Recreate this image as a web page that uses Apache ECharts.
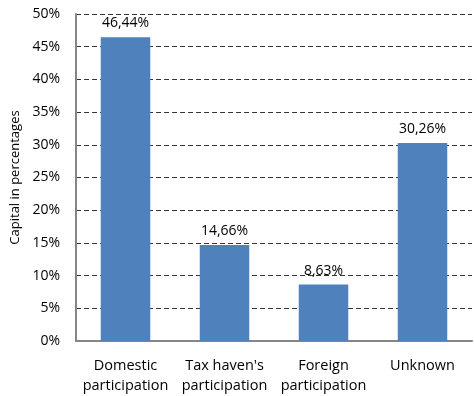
<!DOCTYPE html>
<html>
<head>
<meta charset="utf-8">
<script src="https://cdn.jsdelivr.net/npm/echarts@6/dist/echarts.min.js"></script>
<style>
  html, body { margin: 0; padding: 0; background: #fff; }
  #chart { width: 474px; height: 396px; }
</style>
</head>
<body>
<div id="chart"></div>
<script>
// Share of capital by participation type
const categories = ['Domestic\nparticipation', "Tax haven's\nparticipation", 'Foreign\nparticipation', 'Unknown'];
const values = [46.44, 14.66, 8.63, 30.26];
const yTicks = [0, 5, 10, 15, 20, 25, 30, 35, 40, 45, 50];

const FONT = '"Open Sans", "Liberation Sans", sans-serif';

const chart = echarts.init(document.getElementById('chart'), null, { renderer: 'canvas' });
chart.setOption({
  animation: false,
  textStyle: { fontFamily: FONT },
  grid: { left: 76, right: 2, top: 14, bottom: 55, containLabel: false },
  xAxis: {
    type: 'category',
    data: categories,
    axisLine: { show: true, lineStyle: { color: '#868686', width: 2 } },
    axisTick: { show: false },
    axisLabel: { interval: 0, color: '#000', fontSize: 14.5, fontFamily: FONT, margin: 15, lineHeight: 20 }
  },
  yAxis: {
    type: 'value',
    min: yTicks[0],
    max: yTicks[yTicks.length - 1],
    interval: 5,
    name: 'Capital in percentages',
    nameLocation: 'middle',
    nameGap: 54,
    nameTextStyle: { color: '#000', fontSize: 13, fontFamily: FONT },
    axisLine: { show: true, lineStyle: { color: '#868686', width: 2 } },
    axisTick: { show: false },
    axisLabel: { color: '#000', fontSize: 14, fontFamily: FONT, margin: 16, formatter: v => v + '%' },
    splitLine: { show: true, lineStyle: { color: '#333', type: [5, 3], width: 1 } }
  },
  series: [{
    type: 'bar',
    data: values,
    barWidth: '50%',
    itemStyle: { color: '#4F81BD' },
    label: {
      show: true,
      position: 'top',
      distance: 7,
      color: '#000',
      fontSize: 14,
      fontFamily: FONT,
      formatter: p => p.value.toFixed(2).replace('.', ',') + '%'
    }
  }]
});
</script>
</body>
</html>
